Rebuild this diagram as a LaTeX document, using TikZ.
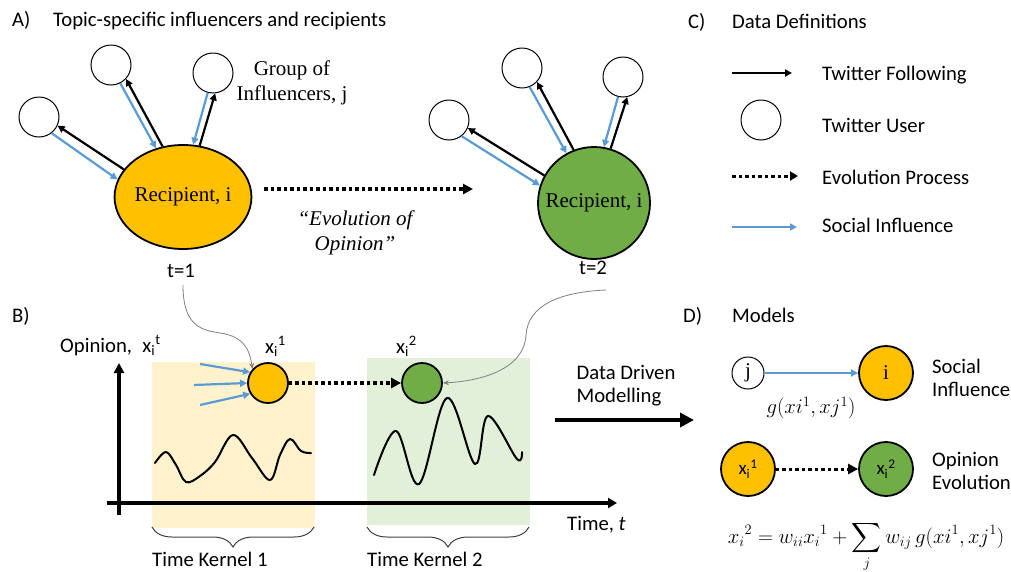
\documentclass[tikz,border=0pt]{standalone}
\usepackage{exscale}
\usepackage{fontspec}
\setmainfont{Carlito}
\newfontfamily\tms{Liberation Serif}
\usetikzlibrary{arrows.meta,shapes.geometric,decorations.pathreplacing}
\definecolor{orng}{HTML}{FFC000}
\definecolor{grn}{HTML}{70AD47}
\definecolor{blu}{HTML}{5B9BD5}
\definecolor{ylw}{HTML}{FFF2CC}
\definecolor{lgrn}{HTML}{E2F0D9}
\definecolor{gry}{HTML}{808080}
\definecolor{brc}{HTML}{404040}
\begin{document}
\begin{tikzpicture}[x=1pt,y=-1pt,
  cal/.style={font=\fontsize{20.7}{23}\selectfont, inner sep=0pt},
  tnr/.style={font=\fontsize{21}{25}\selectfont\tms, inner sep=0pt},
  user/.style={circle, draw, line width=1pt, minimum size=40pt, inner sep=0pt},
  recip/.style={draw, line width=1.8pt, inner sep=0pt, font=\fontsize{21}{25}\selectfont\tms},
  dot/.style={circle, draw, line width=1.8pt, inner sep=0pt},
  follow/.style={line width=2.2pt, -{Triangle[length=7pt,width=7pt]}},
  influ/.style={draw=blu, line width=2.2pt, -{Triangle[length=7pt,width=7pt]}},
  evol/.style={line width=3.2pt, dash pattern=on 3.5pt off 3pt, -{Triangle[length=10pt,width=10pt]}},
  curv/.style={draw=gry, line width=0.8pt, -{Stealth[length=6pt,width=5pt]}},
  axis/.style={line width=3.3pt},
  kbrace/.style={draw=brc, line width=1pt, decorate, decoration={brace, mirror, amplitude=20pt}},
  wave/.style={line width=2pt, line join=round, line cap=round}
]
\useasboundingbox (0,0) rectangle (1011,571);

% ---------------- Panel A
\node[cal, anchor=base west] (lA) at (12,26) {A)};
\node[cal, anchor=base west] (tA) at (53,26) {Topic-specific influencers and recipients};

\node[recip, ellipse, fill=orng, minimum width=113pt, minimum height=104pt] (R1) at (183,197) {\raisebox{-4pt}{Recipient, i}};
\node[user] (A1) at (39,117) {};
\node[user] (A2) at (111,65) {};
\node[user] (A3) at (213,73) {};
\draw[follow] (R1.155.6) -- (A1.-25.6);
\draw[influ] (A1.-52) -- (R1.165);
\draw[follow] (R1.112) -- (A2.-43.5);
\draw[influ] (A2.-63.4) -- (R1.119);
\draw[follow] (R1.72) -- (A3.-84);
\draw[influ] (A3.-105) -- (R1.79);
\node[tnr, align=center] (grp) at (292,83) {Group of\\Influencers, j};
\node[cal, anchor=base] (t1) at (181,277) {t=1};

\node[recip, circle, fill=grn, minimum size=112pt] (R2) at (594,203) {\raisebox{-2pt}{Recipient, i}};
\node[user] (B1) at (449,120) {};
\node[user] (B2) at (522,68) {};
\node[user] (B3) at (623,77) {};
\draw[follow] (R2.151.7) -- (B1.-23.5);
\draw[influ] (B1.-52) -- (R2.162);
\draw[follow] (R2.111) -- (B2.-43);
\draw[influ] (B2.-68) -- (R2.119);
\draw[follow] (R2.73) -- (B3.-78);
\draw[influ] (B3.-104) -- (R2.80);
\node[cal, anchor=base] (t2) at (593,274) {t=2};

\coordinate (e1) at (264,189);
\coordinate (e2) at (473,189);
\draw[evol] (e1) -- (e2);
\node[tnr, font=\fontsize{21}{25}\selectfont\tms\itshape, align=center] (evt) at (355,233) {“Evolution of\\Opinion”};

% ---------------- Panel C
\node[cal, anchor=base west] (lC) at (688,28) {C)};
\node[cal, anchor=base west] (tC) at (732,28) {Data Definitions};
\coordinate (f1) at (732,73); \coordinate (f2) at (792,73);
\draw[follow] (f1) -- (f2);
\node[user] (U) at (761,120) {};
\coordinate (d1) at (732,176); \coordinate (d2) at (798,176);
\draw[evol, line width=3pt, -{Triangle[length=8pt,width=9pt]}] (d1) -- (d2);
\coordinate (s1) at (732,227); \coordinate (s2) at (797,227);
\draw[influ] (s1) -- (s2);
\node[cal, anchor=base west] (lf) at (822,80) {Twitter Following};
\node[cal, anchor=base west] (lu) at (822,132) {Twitter User};
\node[cal, anchor=base west] (le) at (822,184) {Evolution Process};
\node[cal, anchor=base west] (ls) at (822,232) {Social Influence};

% ---------------- Panel B
\node[cal, anchor=base west] (lB) at (12,322) {B)};
\fill[ylw] (152,362) rectangle (315,528);
\fill[lgrn] (367,358) rectangle (530,525);
\coordinate (yb) at (119,515); \coordinate (yt) at (119,363);
\draw[axis, -{Triangle[length=10pt,width=10pt]}] (yb) -- (yt);
\coordinate (xl) at (107,503); \coordinate (xr) at (617,503);
\draw[axis, -{Triangle[length=9pt,width=10pt]}] (xl) -- (xr);
\node[cal, anchor=base west] (op) at (60,352) {Opinion,\hspace{0.5em}x\textsubscript{i}\textsuperscript{t}};

\node[dot, fill=orng, minimum size=40pt] (O1) at (268,383) {};
\node[dot, fill=grn, minimum size=40pt] (G1) at (422,383) {};
\node[cal, anchor=base west] (x1l) at (265,353) {x\textsubscript{i}\textsuperscript{1}};
\node[cal, anchor=base west] (x2l) at (396,353) {x\textsubscript{i}\textsuperscript{2}};
\coordinate (b1) at (200,364); \coordinate (b2) at (194,385); \coordinate (b3) at (200,405);
\draw[influ] (b1) -- (O1.149);
\draw[influ] (b2) -- (O1.180);
\draw[influ] (b3) -- (O1.211);
\draw[evol] (O1) -- (G1);

\coordinate (c1) at (183,285);
\draw[curv] (c1) .. controls (183,325) and (200,330) .. (220,333) .. controls (240,336) and (249,345) .. (O1.138);
\coordinate (c2) at (606,290);
\draw[curv] (c2) .. controls (560,292) and (528,305) .. (526,335) .. controls (524,370) and (480,381) .. (G1.east);

\draw[wave] plot[smooth, tension=0.6] coordinates {(155,463) (166,452) (176,465) (186,482) (200,476) (215,462) (233,435) (252,458) (270,480) (280,455) (290,439) (301,451) (311,453)};
\draw[wave] plot[smooth, tension=0.6] coordinates {(374,475) (396,431) (419,484) (447,398) (475,464) (488,416) (517,459) (522,452)};

\draw[kbrace] (152,527) -- (314,527);
\draw[kbrace] (367,527) -- (529,527);
\node[cal, anchor=base west] (k1) at (152,566) {Time Kernel 1};
\node[cal, anchor=base west] (k2) at (367,566) {Time Kernel 2};

\coordinate (m1) at (555,420); \coordinate (m2) at (694,420);
\draw[line width=4.5pt, -{Triangle[length=14pt,width=14pt]}] (m1) -- (m2);
\node[cal, align=left] (ddm) at (626,386) {Data Driven\\Modelling};
\node[cal, anchor=base west] (tt) at (567,530) {Time, \itshape t};

% ---------------- Panel D
\node[cal, anchor=base west] (lD) at (683,322) {D)};
\node[cal, anchor=base west] (tD) at (732,322) {Models};
\node[user, minimum size=32pt, font=\fontsize{21}{25}\selectfont\tms] (J) at (748,373) {j};
\node[dot, fill=orng, minimum size=54pt, font=\fontsize{21}{25}\selectfont\tms] (I) at (886,373) {i};
\draw[influ, line width=2pt] (J) -- (I);
\node[inner sep=0pt, font=\fontsize{20}{24}\selectfont] (gl) at (811,408) {$g(xi^1, xj^1)$};
\node[cal, align=left, anchor=west] (si) at (932,378) {Social\\Influence};
\node[dot, fill=orng, minimum size=54pt, font=\fontsize{19}{23}\selectfont] (X1) at (748,469) {x\textsubscript{i}\textsuperscript{1}};
\node[dot, fill=grn, minimum size=54pt, font=\fontsize{19}{23}\selectfont] (X2) at (886,469) {x\textsubscript{i}\textsuperscript{2}};
\draw[evol, line width=3pt] (X1) -- (X2);
\node[cal, align=left, anchor=west] (oe) at (932,471) {Opinion\\Evolution};
\node[inner sep=0pt, anchor=base, font=\fontsize{20}{24}\selectfont] (eq) at (866,543) {$\displaystyle x_i{}^2 = w_{ii}x_i{}^1 + \sum_j w_{ij}\,g(xi^1, xj^1)$};
\end{tikzpicture}
\end{document}
